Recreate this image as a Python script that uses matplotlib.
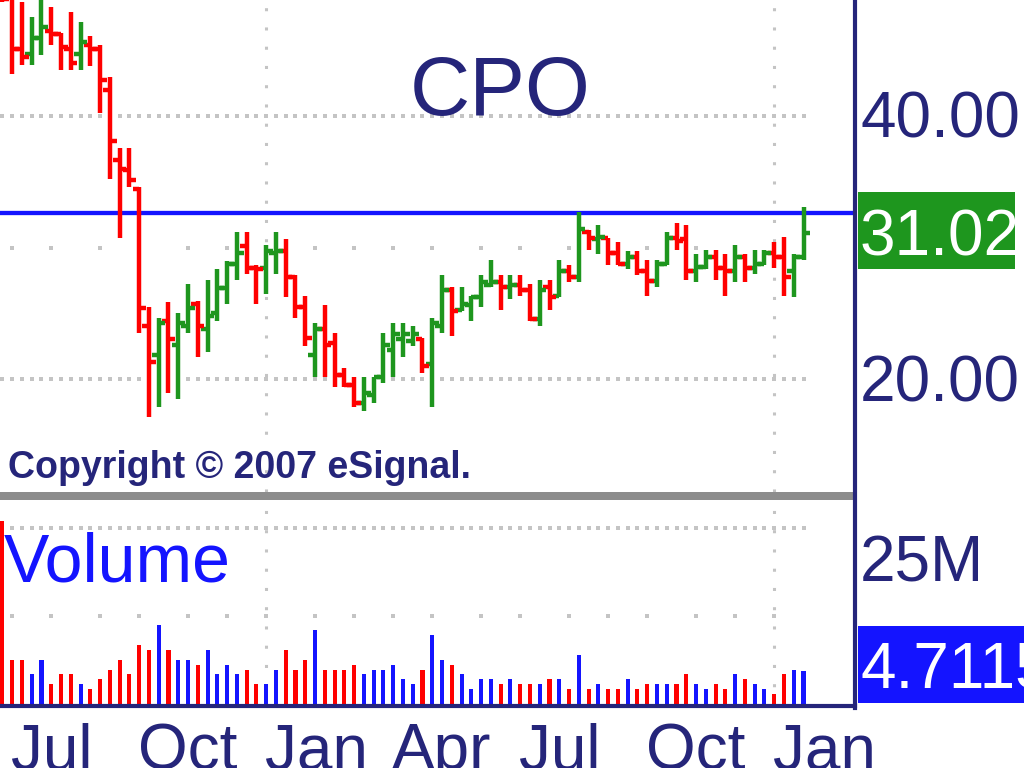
import numpy as np
import pandas as pd
import matplotlib
matplotlib.use("Agg")
import matplotlib.pyplot as plt
from matplotlib.lines import Line2D
from matplotlib.patches import Rectangle

W, H = 1024, 768
NAVY = "#25257a"
RED = "#ff0000"
GREEN = "#1e961e"
BLUE = "#1414ff"
GRID = "#c4c4c4"
FONT = "Liberation Sans"

# weekly bars, Jun 2005 - Jan 2007
dates = pd.date_range("2005-06-27", periods=83, freq="W-MON")

opens = [56.0, 55.0, 47.8, 47.1, 49.1, 50.0, 49.6, 47.8, 47.1, 48.3,
         47.8, 42.9, 35.6, 34.7, 33.0, 23.0, 21.3, 23.3, 21.9, 23.0,
         24.4, 22.8, 23.8, 25.4, 27.1, 28.4, 26.8, 26.8, 27.9, 28.0,
         26.2, 24.2, 21.3, 22.8, 22.0, 20.2, 19.7, 18.8, 19.2, 20.1,
         21.6, 22.2, 22.1, 22.2, 20.8, 23.0, 25.3, 24.0, 24.3, 24.8,
         25.6, 25.8, 25.5, 25.6, 25.3, 23.4, 25.5, 24.9, 26.6, 26.2,
         29.5, 28.9, 29.0, 27.9, 27.1, 27.6, 26.6, 25.9, 27.1, 29.0,
         28.9, 26.6, 26.9, 27.6, 26.8, 26.6, 27.6, 26.8, 27.1, 27.9,
         27.6, 26.6, 27.6]
highs = [57.0, 56.0, 54.0, 51.9, 54.5, 53.3, 49.8, 52.6, 51.3, 49.4,
         48.3, 44.4, 36.8, 36.8, 33.2, 24.2, 23.5, 24.5, 23.8, 25.7,
         24.6, 26.0, 26.7, 27.3, 29.5, 29.5, 27.0, 28.5, 29.5, 28.9,
         26.3, 24.9, 23.2, 24.3, 22.6, 20.6, 20.1, 20.1, 20.1, 22.6,
         23.2, 23.2, 23.0, 22.3, 23.5, 26.3, 25.5, 25.5, 24.9, 26.3,
         27.4, 26.3, 26.3, 26.3, 25.7, 26.0, 26.0, 27.4, 27.0, 31.1,
         29.6, 30.0, 29.0, 28.7, 28.0, 28.0, 27.4, 27.4, 29.5, 30.2,
         30.0, 27.8, 28.1, 28.1, 27.8, 28.5, 27.8, 28.1, 28.1, 28.7,
         29.1, 27.8, 31.5]
lows = [54.0, 44.7, 45.8, 45.8, 47.0, 48.3, 45.2, 45.2, 45.2, 45.7,
        40.3, 33.9, 29.0, 33.2, 22.6, 18.1, 18.6, 19.3, 19.0, 22.6,
        21.2, 21.5, 23.3, 24.4, 26.0, 26.4, 24.4, 25.0, 26.4, 24.8,
        23.5, 21.8, 20.1, 20.1, 19.6, 19.6, 18.6, 18.4, 18.8, 19.8,
        20.1, 21.2, 21.8, 20.3, 18.6, 22.6, 22.4, 23.9, 23.3, 24.2,
        25.5, 24.0, 24.7, 24.9, 23.3, 23.0, 24.0, 24.8, 25.8, 25.8,
        28.1, 27.8, 27.0, 27.0, 26.7, 26.3, 24.9, 25.5, 27.0, 28.1,
        26.0, 25.8, 26.7, 26.0, 24.9, 25.8, 25.8, 26.4, 27.0, 26.8,
        24.9, 24.8, 27.4]
closes = [54.4, 47.8, 46.7, 49.1, 50.6, 49.6, 48.0, 46.0, 48.6, 47.8,
          44.0, 37.5, 34.8, 33.8, 24.1, 20.9, 23.2, 22.2, 23.2, 24.1,
          23.0, 23.6, 25.4, 27.1, 27.9, 26.8, 26.7, 28.0, 28.0, 26.2,
          24.2, 22.3, 22.8, 21.9, 20.2, 19.7, 18.8, 19.3, 20.1, 21.9,
          22.5, 22.5, 22.5, 20.7, 23.2, 25.3, 23.9, 24.4, 24.8, 25.8,
          25.8, 25.5, 25.6, 25.3, 23.4, 25.3, 24.8, 26.6, 26.2, 29.7,
          29.0, 29.1, 27.9, 27.1, 27.6, 26.6, 25.9, 27.1, 29.0, 28.8,
          26.6, 26.9, 27.6, 26.8, 26.6, 27.6, 26.8, 27.1, 27.9, 27.6,
          26.2, 27.6, 29.4]
# weekly volume, millions of shares
volume = [26.0, 6.3, 6.3, 4.3, 6.3, 2.8, 4.3, 4.3, 2.8, 2.1,
          3.5, 4.9, 6.3, 4.3, 8.4, 7.7, 11.2, 7.7, 6.3, 6.3,
          5.6, 7.7, 4.3, 5.6, 4.3, 4.9, 2.8, 2.8, 4.9, 7.7,
          4.9, 6.3, 10.5, 4.9, 4.9, 4.9, 5.6, 4.3, 4.9, 4.9,
          5.6, 3.5, 2.8, 4.9, 9.8, 6.3, 5.6, 4.3, 2.1, 3.5,
          3.5, 2.8, 3.5, 2.8, 2.8, 2.8, 3.5, 3.5, 2.1, 7.0,
          2.1, 2.8, 2.1, 2.1, 3.5, 2.1, 2.8, 2.8, 2.8, 2.8,
          4.3, 2.8, 2.1, 2.8, 2.1, 4.3, 3.5, 2.8, 2.1, 1.4,
          4.3, 4.9, 4.711]

resistance = 31.02
price_grid = [20.0, 40.0]
price_mid = 28.28
vol_grid = 25.0
vol_mid = 12.5
last_volume_text = "4.7115"


def fx(px):
    return px / W


def fy(py):
    return 1 - py / H


x = np.arange(len(dates))
up = np.array(closes) >= np.array(opens)
bar_cols = np.where(up, GREEN, RED)
vol_cols = np.where(up, BLUE, RED)

# first bar of every month; quarter starts get labels, Jan gets a vertical line
month_start = [i for i in range(1, len(dates)) if dates[i].month != dates[i - 1].month]
quarter_start = [i for i in month_start if dates[i].month in (1, 4, 7, 10)]
year_start = [i for i in month_start if dates[i].month == 1]

XMIN, XMAX = -0.246, 87.27

fig = plt.figure(figsize=(W / 100, H / 100), dpi=100)

# --- price panel (log scale) ---
ax = fig.add_axes([0, fy(492), fx(855), 492 / H])
ax.set_yscale("log")
ax.set_ylim(14.85, 54.32)
ax.set_xlim(XMIN, XMAX)
ax.axis("off")

for lvl in price_grid:
    ax.scatter(x, np.full(len(x), lvl), marker="s", s=5, c=GRID, lw=0, zorder=0)
ax.scatter(month_start, np.full(len(month_start), price_mid), marker="s", s=5, c=GRID, lw=0, zorder=0)
for i in year_start:
    ax.axvline(i, color=GRID, lw=2.2, linestyle=(0, (1, 5.3)), zorder=0)

ax.axhline(resistance, color=BLUE, lw=3.1, zorder=1)

ax.vlines(x, lows, highs, colors=bar_cols, lw=3.2, capstyle="butt", zorder=2)
ax.hlines(opens, x - 0.68, x, colors=bar_cols, lw=3.2, zorder=2)
ax.hlines(closes, x, x + 0.68, colors=bar_cols, lw=3.2, zorder=2)

# --- volume panel ---
ax2 = fig.add_axes([0, fy(706), fx(855), (706 - 508) / H])
ax2.set_ylim(-0.287, 27.87)
ax2.set_xlim(XMIN, XMAX)
ax2.axis("off")
ax2.scatter(x, np.full(len(x), vol_grid), marker="s", s=5, c=GRID, lw=0, zorder=0)
ax2.scatter(month_start, np.full(len(month_start), vol_mid), marker="s", s=5, c=GRID, lw=0, zorder=0)
for i in year_start:
    ax2.axvline(i, color=GRID, lw=2.2, linestyle=(0, (1, 5.3)), zorder=0)
ax2.bar(x, volume, width=0.42, color=vol_cols, zorder=2)

# frame pieces
fig.add_artist(Rectangle((0, fy(500)), fx(855), 8 / H, color="#8c8c8c", lw=0))
fig.add_artist(Line2D([0, fx(855)], [fy(706), fy(706)], color=NAVY, lw=3))
fig.add_artist(Line2D([fx(855), fx(855)], [fy(0), fy(708)], color=NAVY, lw=3))

# texts
fig.text(fx(500), fy(115), "CPO", ha="center", va="baseline", fontsize=60,
         color=NAVY, family=FONT)
fig.text(fx(8), fy(478), "Copyright \u00a9 2007 eSignal.", ha="left", va="baseline",
         fontsize=27, color=NAVY, family=FONT, weight="bold")
fig.text(fx(4), fy(582), "Volume", ha="left", va="baseline", fontsize=49,
         color=BLUE, family=FONT)

fig.text(fx(860), fy(137), "40.00", ha="left", va="baseline", fontsize=46, color=NAVY, family=FONT)
fig.text(fx(860), fy(401), "20.00", ha="left", va="baseline", fontsize=46, color=NAVY, family=FONT)
fig.add_artist(Rectangle((fx(858), fy(269)), fx(157), 77 / H, color=GREEN, lw=0))
fig.text(fx(860), fy(255), f"{resistance:.2f}", ha="left", va="baseline", fontsize=46,
         color="white", family=FONT)
fig.text(fx(860), fy(582), "25M", ha="left", va="baseline", fontsize=46, color=NAVY, family=FONT)
fig.add_artist(Rectangle((fx(858), fy(703)), fx(166), 77 / H, color=BLUE, lw=0))
fig.text(fx(860), fy(688), last_volume_text, ha="left", va="baseline", fontsize=46,
         color="white", family=FONT)

# month labels, cut by the bottom edge as in the original
for i in quarter_start:
    xpos = (i - 0.15 - XMIN) / (XMAX - XMIN) * fx(855)
    fig.text(xpos, fy(769), dates[i].strftime("%b"), ha="left", va="baseline",
             fontsize=46, color=NAVY, family=FONT)

fig.savefig("out.png", dpi=100)
